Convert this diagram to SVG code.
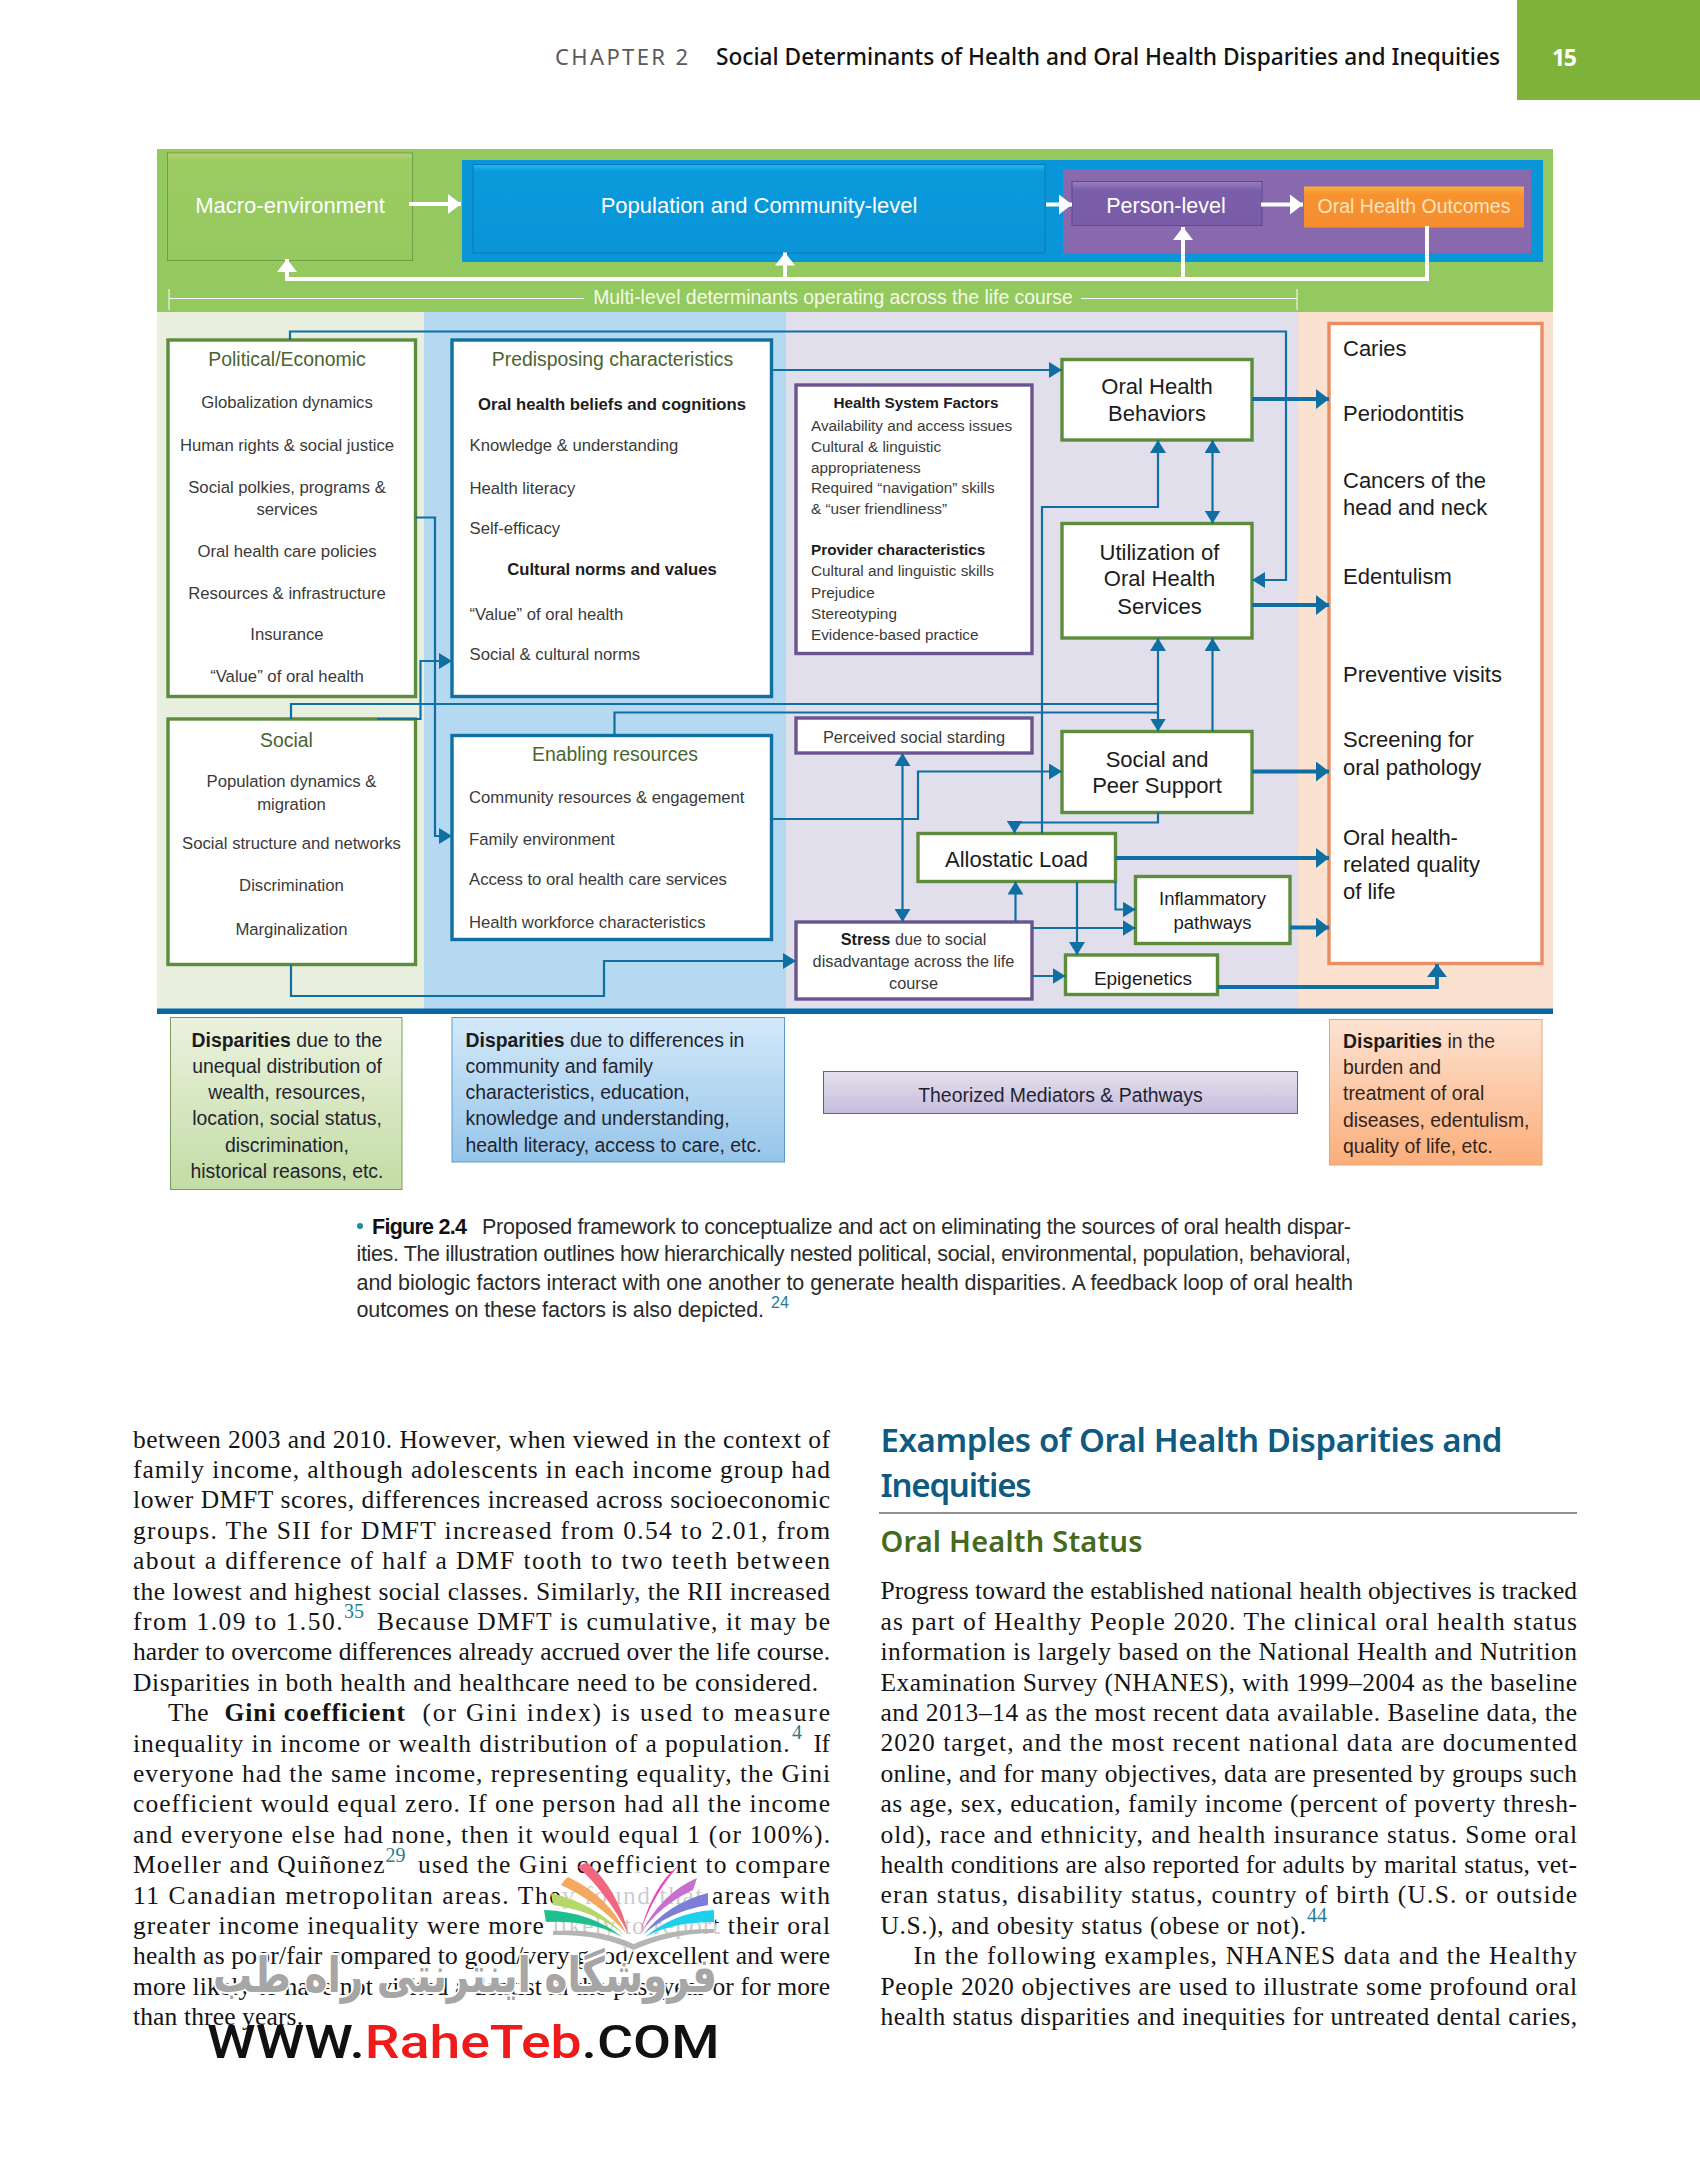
<svg xmlns="http://www.w3.org/2000/svg" width="1700" height="2175" viewBox="0 0 1700 2175">
<style>
text{font-family:"Liberation Sans",Arial,sans-serif;fill:#2b2b2b}
.c{text-anchor:middle}
.s16{font-size:16.7px;fill:#3a3a3a}
.s15{font-size:15.3px;fill:#3a3a3a}
.t18{font-size:19.4px;fill:#4c6430}
.n21{font-size:22px;fill:#1c1c1c}
.d18{font-size:19.4px;fill:#1f2430}
.w{fill:#fff}
.bd{font-weight:700;fill:#1c1c1c}
.box{fill:#fff;stroke-width:3.4}
.gr{stroke:#5d8c3c}.bl{stroke:#10709f}.pu{stroke:#6a5490}.or{stroke:#e98d62}
.cn{fill:none;stroke:#0f6fa3;stroke-width:2.2}
.ct{fill:none;stroke:#0f6fa3;stroke-width:3.8}
.cw{fill:none;stroke:#fff;stroke-width:4}
.b{font-family:"Liberation Serif","Times New Roman",serif;font-size:25.5px;fill:#141414}
.sup{font-family:"Liberation Serif",serif;font-size:20px;fill:#2a7a90}
.cap{font-size:21.5px;fill:#2a2a2a}
</style>
<defs>
<marker id="a" markerUnits="userSpaceOnUse" markerWidth="14" markerHeight="16" viewBox="0 0 14 16" refX="13" refY="8" orient="auto-start-reverse"><path d="M0 0L13 8L0 16Z" fill="#0f6fa3"/></marker>
<marker id="A" markerUnits="userSpaceOnUse" markerWidth="14" markerHeight="20" viewBox="0 0 14 20" refX="13" refY="10" orient="auto"><path d="M0 0L13 10L0 20Z" fill="#0f6fa3"/></marker>
<marker id="W" markerUnits="userSpaceOnUse" markerWidth="14" markerHeight="20" viewBox="0 0 14 20" refX="13" refY="10" orient="auto"><path d="M0 0L13 10L0 20Z" fill="#fff"/></marker>
<linearGradient id="gM" x1="0" y1="0" x2="0" y2="1"><stop offset="0" stop-color="#bcd277"/><stop offset=".07" stop-color="#9ccb62"/><stop offset="1" stop-color="#96c95f"/></linearGradient>
<linearGradient id="gP" x1="0" y1="0" x2="0" y2="1"><stop offset="0" stop-color="#1cbcf0"/><stop offset=".08" stop-color="#0a9ada"/><stop offset="1" stop-color="#0995d8"/></linearGradient>
<linearGradient id="gU" x1="0" y1="0" x2="0" y2="1"><stop offset="0" stop-color="#9a80c0"/><stop offset=".2" stop-color="#7a5ea9"/><stop offset="1" stop-color="#785ca8"/></linearGradient>
<linearGradient id="gO" x1="0" y1="0" x2="0" y2="1"><stop offset="0" stop-color="#fbb03c"/><stop offset=".2" stop-color="#f7922f"/><stop offset="1" stop-color="#f68e2f"/></linearGradient>
<linearGradient id="g1" x1="0" y1="0" x2="0" y2="1"><stop offset="0" stop-color="#ebf2df"/><stop offset="1" stop-color="#c3dca4"/></linearGradient>
<linearGradient id="g2" x1="0" y1="0" x2="0" y2="1"><stop offset="0" stop-color="#d3e9f9"/><stop offset="1" stop-color="#96c5ea"/></linearGradient>
<linearGradient id="g3" x1="0" y1="0" x2="0" y2="1"><stop offset="0" stop-color="#e6e1ef"/><stop offset="1" stop-color="#c5bcdd"/></linearGradient>
<linearGradient id="g4" x1="0" y1="0" x2="0" y2="1"><stop offset="0" stop-color="#fde3d2"/><stop offset="1" stop-color="#fbae7a"/></linearGradient>
</defs>
<rect width="1700" height="2175" fill="#fff"/>

<g id="page-header">
<rect x="1517" y="0" width="183" height="100" fill="#7fb239"/>
<text x="555" y="65" font-size="22" style="fill:#5a5a5a;font-family:'Noto Sans',sans-serif" textLength="133">CHAPTER 2</text>
<text x="716" y="65" font-size="23.5" font-weight="500" style="fill:#111;font-family:'Noto Sans',sans-serif" textLength="784" lengthAdjust="spacingAndGlyphs">Social Determinants of Health and Oral Health Disparities and Inequities</text>
<text x="1552" y="66" font-size="23" font-weight="700" style="fill:#fff;font-family:'Noto Sans',sans-serif" textLength="25">15</text>
</g>

<g id="bands">
<rect x="157" y="149" width="1396" height="163" fill="#94c95f"/>
<rect x="462" y="160" width="1081" height="102" fill="#0995d8"/>
<rect x="1063" y="169" width="468" height="84" fill="#8869ae"/>
<rect x="157" y="312" width="267" height="697" fill="#e9efde"/>
<rect x="424" y="312" width="362" height="697" fill="#b5d9f1"/>
<rect x="786" y="312" width="512" height="697" fill="#e2dfec"/>
<rect x="1298" y="312" width="255" height="697" fill="#fbe2d0"/>
<rect x="157" y="1008.5" width="1396" height="5.5" fill="#0669a5"/>
</g>

<g id="macro"><rect x="167.5" y="153" width="245" height="107.5" fill="url(#gM)" stroke="#6f9f45"/><text class="c w" x="290" y="213" font-size="22">Macro-environment</text></g>
<g id="population"><rect x="473" y="164.5" width="572" height="88.5" fill="url(#gP)" stroke="#0b78b5"/><text class="c w" x="759" y="213" font-size="22">Population and Community-level</text></g>
<g id="person"><rect x="1072" y="181.5" width="190" height="44" fill="url(#gU)" stroke="#5b4a8d"/><text class="c w" x="1166" y="212.5" font-size="21.5">Person-level</text></g>
<g id="outcomes-head"><rect x="1304" y="186.5" width="220" height="41" fill="url(#gO)"/><text class="c" x="1414" y="212.5" font-size="19.5" style="fill:#ffe3bd">Oral Health Outcomes</text></g>

<g id="lifecourse">
<path d="M169 289V310M169 298.5H584M1081 298.5H1297M1297 289V310" fill="none" stroke="#fff" stroke-width="1"/>
<text class="c" x="833" y="303.5" font-size="19.4" style="fill:#f4f9e8">Multi-level determinants operating across the life course</text>
</g>

<g id="political"><rect class="box gr" x="168" y="340" width="247.5" height="356.5"/>
<text class="c t18" x="287" y="366">Political/Economic</text>
<text class="c s16" x="287" y="408">Globalization dynamics</text>
<text class="c s16" x="287" y="450.5">Human rights &amp; social justice</text>
<text class="c s16" x="287" y="493">Social polkies, programs &amp;</text>
<text class="c s16" x="287" y="515">services</text>
<text class="c s16" x="287" y="557">Oral health care policies</text>
<text class="c s16" x="287" y="598.5">Resources &amp; infrastructure</text>
<text class="c s16" x="287" y="640">Insurance</text>
<text class="c s16" x="287" y="682">“Value” of oral health</text></g>

<g id="social"><rect class="box gr" x="168" y="719" width="247.5" height="245.5"/>
<text class="c t18" x="286.5" y="747">Social</text>
<text class="c s16" x="291.5" y="787">Population dynamics &amp;</text>
<text class="c s16" x="291.5" y="809.5">migration</text>
<text class="c s16" x="291.5" y="849">Social structure and networks</text>
<text class="c s16" x="291.5" y="891">Discrimination</text>
<text class="c s16" x="291.5" y="934.5">Marginalization</text></g>

<g id="predisposing"><rect class="box bl" x="452" y="340" width="319.5" height="356.5"/>
<text class="c t18" x="612.5" y="366">Predisposing characteristics</text>
<text class="c s16 bd" x="612" y="410">Oral health beliefs and cognitions</text>
<text class="s16" x="469.5" y="450.5">Knowledge &amp; understanding</text>
<text class="s16" x="469.5" y="493.5">Health literacy</text>
<text class="s16" x="469.5" y="534">Self-efficacy</text>
<text class="c s16 bd" x="612" y="575">Cultural norms and values</text>
<text class="s16" x="469.5" y="620">“Value” of oral health</text>
<text class="s16" x="469.5" y="660">Social &amp; cultural norms</text></g>

<g id="enabling"><rect class="box bl" x="452" y="735.5" width="319.5" height="204"/>
<text class="c t18" x="615" y="761">Enabling resources</text>
<text class="s16" x="469" y="803">Community resources &amp; engagement</text>
<text class="s16" x="469" y="845">Family environment</text>
<text class="s16" x="469" y="885">Access to oral health care services</text>
<text class="s16" x="469" y="928">Health workforce characteristics</text></g>

<g id="health-system"><rect class="box pu" x="796" y="385" width="236" height="268.5"/>
<text class="c s15 bd" x="916" y="408">Health System Factors</text>
<text class="s15" x="811" y="431">Availability and access issues</text>
<text class="s15" x="811" y="451.5">Cultural &amp; linguistic</text>
<text class="s15" x="811" y="473">appropriateness</text>
<text class="s15" x="811" y="492.5">Required “navigation” skills</text>
<text class="s15" x="811" y="514">&amp; “user friendliness”</text>
<text class="s15 bd" x="811" y="554.5">Provider characteristics</text>
<text class="s15" x="811" y="575.5">Cultural and linguistic skills</text>
<text class="s15" x="811" y="597.5">Prejudice</text>
<text class="s15" x="811" y="618.5">Stereotyping</text>
<text class="s15" x="811" y="639.5">Evidence-based practice</text></g>

<g id="perceived"><rect class="box pu" x="796" y="718" width="236" height="35"/><text class="c s15" x="914" y="742.5" style="font-size:16.4px">Perceived social starding</text></g>
<g id="stress"><rect class="box pu" x="796" y="922" width="236" height="77"/>
<text class="c s15" x="913.5" y="944.5" style="font-size:16.3px"><tspan class="bd">Stress</tspan> due to social</text>
<text class="c s15" x="913.5" y="966.5" style="font-size:16.3px">disadvantage across the life</text>
<text class="c s15" x="913.5" y="988.5" style="font-size:16.3px">course</text></g>

<g id="behaviors"><rect class="box gr" x="1062" y="359.5" width="190" height="80.5"/><text class="c n21" x="1157" y="393.5">Oral Health</text><text class="c n21" x="1157" y="420.5">Behaviors</text></g>
<g id="utilization"><rect class="box gr" x="1062" y="523.5" width="190" height="114.5"/><text class="c n21" x="1159.5" y="559.5">Utilization of</text><text class="c n21" x="1159.5" y="586">Oral Health</text><text class="c n21" x="1159.5" y="613.5">Services</text></g>
<g id="support"><rect class="box gr" x="1062" y="731.5" width="190" height="81"/><text class="c n21" x="1157" y="766.5">Social and</text><text class="c n21" x="1157" y="793">Peer Support</text></g>
<g id="allostatic"><rect class="box gr" x="918" y="833.5" width="197.5" height="48"/><text class="c n21" x="1016.5" y="867">Allostatic Load</text></g>
<g id="inflammatory"><rect class="box gr" x="1135.5" y="876.5" width="154.5" height="67"/><text class="c n21" x="1212.5" y="905" style="font-size:18.5px">Inflammatory</text><text class="c n21" x="1212.5" y="929" style="font-size:18.5px">pathways</text></g>
<g id="epigenetics"><rect class="box gr" x="1065.5" y="955" width="152" height="39.5"/><text class="c n21" x="1143" y="984.5" style="font-size:19px">Epigenetics</text></g>

<g id="outcomes"><rect class="box or" x="1329" y="323.5" width="213" height="640"/>
<text class="n21" x="1343" y="356">Caries</text>
<text class="n21" x="1343" y="421">Periodontitis</text>
<text class="n21" x="1343" y="488">Cancers of the</text>
<text class="n21" x="1343" y="515">head and neck</text>
<text class="n21" x="1343" y="584">Edentulism</text>
<text class="n21" x="1343" y="682">Preventive visits</text>
<text class="n21" x="1343" y="747">Screening for</text>
<text class="n21" x="1343" y="774.5">oral pathology</text>
<text class="n21" x="1343" y="844.5">Oral health-</text>
<text class="n21" x="1343" y="872">related quality</text>
<text class="n21" x="1343" y="899">of life</text></g>

<g id="connectors">
<path class="cw" marker-end="url(#W)" d="M409 204H461"/>
<path class="cw" marker-end="url(#W)" d="M1046 204.5H1072"/>
<path class="cw" marker-end="url(#W)" d="M1261 204.5H1303"/>
<path class="cw" marker-end="url(#W)" d="M1427 226V279H287V259"/>
<path class="cw" marker-end="url(#W)" d="M785 279V252.5"/>
<path class="cw" marker-end="url(#W)" d="M1183 279V227"/>
<path class="cn" marker-end="url(#a)" d="M290 340V331.5H1286V580H1252"/>
<path class="cn" marker-end="url(#a)" d="M771.5 370H1062"/>
<path class="cn" marker-end="url(#a)" d="M415.5 517.5H435V836H452"/>
<path class="cn" marker-end="url(#a)" d="M377 719H420.5V661H452"/>
<path class="cn" d="M291 719V704H1158"/>
<path class="cn" d="M614.5 735.5V712.5H1158"/>
<path class="cn" marker-start="url(#a)" marker-end="url(#a)" d="M1158 638V731.5"/>
<path class="cn" marker-end="url(#a)" d="M1212.5 731.5V638"/>
<path class="cn" marker-start="url(#a)" marker-end="url(#a)" d="M1212.5 440V523.5"/>
<path class="cn" marker-end="url(#a)" d="M1042 833.5V507H1158V440"/>
<path class="cn" marker-end="url(#a)" d="M771.5 819H918V771.5H1062"/>
<path class="cn" marker-end="url(#a)" d="M291 964.5V996H604V961H796"/>
<path class="cn" marker-start="url(#a)" marker-end="url(#a)" d="M902.5 753V922"/>
<path class="cn" marker-end="url(#a)" d="M1158 812.5V822.5H1014.5V833.5"/>
<path class="cn" marker-end="url(#a)" d="M1015.5 922V881.5"/>
<path class="cn" marker-end="url(#a)" d="M1077 881.5V955"/>
<path class="cn" marker-end="url(#a)" d="M1115.5 881.5V909.5H1135.5"/>
<path class="cn" marker-end="url(#a)" d="M1032 928H1135.5"/>
<path class="cn" marker-end="url(#a)" d="M1032 976H1065.5"/>
<path class="ct" marker-end="url(#A)" d="M1252 399H1329"/>
<path class="ct" marker-end="url(#A)" d="M1252 605H1329"/>
<path class="ct" marker-end="url(#A)" d="M1252 771.5H1329"/>
<path class="ct" marker-end="url(#A)" d="M1115.5 858H1329"/>
<path class="ct" marker-end="url(#A)" d="M1290 927.5H1329"/>
<path class="ct" marker-end="url(#A)" d="M1217.5 987H1437V964"/>
</g>

<g id="legend-green"><rect x="170.5" y="1017.5" width="231.5" height="172" fill="url(#g1)" stroke="#7d9b5f"/>
<text class="c d18" x="287" y="1046.5"><tspan class="bd">Disparities</tspan> due to the</text>
<text class="c d18" x="287" y="1073">unequal distribution of</text>
<text class="c d18" x="287" y="1099">wealth, resources,</text>
<text class="c d18" x="287" y="1125">location, social status,</text>
<text class="c d18" x="287" y="1151.5">discrimination,</text>
<text class="c d18" x="287" y="1177.5">historical reasons, etc.</text></g>
<g id="legend-blue"><rect x="452" y="1017.5" width="332.5" height="144.5" fill="url(#g2)" stroke="#5a9bc9"/>
<text class="d18" x="465.5" y="1046.5"><tspan class="bd">Disparities</tspan> due to differences in</text>
<text class="d18" x="465.5" y="1073">community and family</text>
<text class="d18" x="465.5" y="1099">characteristics, education,</text>
<text class="d18" x="465.5" y="1125">knowledge and understanding,</text>
<text class="d18" x="465.5" y="1151.5">health literacy, access to care, etc.</text></g>
<g id="legend-purple"><rect x="823.5" y="1071.5" width="474" height="42" fill="url(#g3)" stroke="#6a5a98"/><text class="c d18" x="1060.5" y="1102">Theorized Mediators &amp; Pathways</text></g>
<g id="legend-orange"><rect x="1329.5" y="1019.5" width="212.5" height="145.5" fill="url(#g4)" stroke="#e9a477"/>
<text class="d18" x="1343" y="1047.5" style="fill:#33241c"><tspan class="bd">Disparities</tspan> in the</text>
<text class="d18" x="1343" y="1074" style="fill:#33241c">burden and</text>
<text class="d18" x="1343" y="1100" style="fill:#33241c">treatment of oral</text>
<text class="d18" x="1343" y="1126.5" style="fill:#33241c">diseases, edentulism,</text>
<text class="d18" x="1343" y="1152.5" style="fill:#33241c">quality of life, etc.</text></g>

<g id="caption">
<circle cx="360" cy="1226" r="3" fill="#1f8c9c"/>
<text class="cap" x="372" y="1233.5" font-weight="700" textLength="95" style="fill:#111">Figure 2.4</text>
<text class="cap" x="482" y="1233.5" textLength="869">Proposed framework to conceptualize and act on eliminating the sources of oral health dispar-</text>
<text class="cap" x="356.5" y="1261" textLength="994.5">ities. The illustration outlines how hierarchically nested political, social, environmental, population, behavioral,</text>
<text class="cap" x="356.5" y="1289.5" textLength="996.5">and biologic factors interact with one another to generate health disparities. A feedback loop of oral health</text>
<text class="cap" x="356.5" y="1317" textLength="407.5">outcomes on these factors is also depicted.</text>
<text x="771" y="1308" font-size="16" style="fill:#2a7a90">24</text>
</g>

<g id="left-column">
<text class="b" x="133" y="1447.5" textLength="697">between 2003 and 2010. However, when viewed in the context of</text>
<text class="b" x="133" y="1477.9" textLength="697">family income, although adolescents in each income group had</text>
<text class="b" x="133" y="1508.3" textLength="697">lower DMFT scores, differences increased across socioeconomic</text>
<text class="b" x="133" y="1538.7" textLength="697">groups. The SII for DMFT increased from 0.54 to 2.01, from</text>
<text class="b" x="133" y="1569.1" textLength="697">about a difference of half a DMF tooth to two teeth between</text>
<text class="b" x="133" y="1599.5" textLength="697">the lowest and highest social classes. Similarly, the RII increased</text>
<text class="b" x="133" y="1629.9" textLength="209.5">from 1.09 to 1.50.</text><text class="sup" x="344" y="1618">35</text>
<text class="b" x="377" y="1629.9" textLength="453">Because DMFT is cumulative, it may be</text>
<text class="b" x="133" y="1660.3" textLength="697">harder to overcome differences already accrued over the life course.</text>
<text class="b" x="133" y="1690.7" textLength="685">Disparities in both health and healthcare need to be considered.</text>
<text class="b" x="168" y="1721.1" textLength="40.5">The</text>
<text class="b" x="224.5" y="1721.1" font-weight="700" textLength="180.5">Gini coefficient</text>
<text class="b" x="422.5" y="1721.1" textLength="407.5">(or Gini index) is used to measure</text>
<text class="b" x="133" y="1751.5" textLength="656.5">inequality in income or wealth distribution of a population.</text><text class="sup" x="792" y="1739">4</text>
<text class="b" x="813.5" y="1751.5" textLength="16.5">If</text>
<text class="b" x="133" y="1781.9" textLength="697">everyone had the same income, representing equality, the Gini</text>
<text class="b" x="133" y="1812.3" textLength="697">coefficient would equal zero. If one person had all the income</text>
<text class="b" x="133" y="1842.7" textLength="697">and everyone else had none, then it would equal 1 (or 100%).</text>
<text class="b" x="133" y="1873.1" textLength="251.5">Moeller and Quiñonez</text><text class="sup" x="385.5" y="1862">29</text>
<text class="b" x="418" y="1873.1" textLength="412">used the Gini coefficient to compare</text>
<text class="b" x="133" y="1903.5" textLength="697">11 Canadian metropolitan areas. They found that areas with</text>
<text class="b" x="133" y="1933.9" textLength="697">greater income inequality were more likely to report their oral</text>
<text class="b" x="133" y="1964.3" textLength="697">health as poor/fair compared to good/very good/excellent and were</text>
<text class="b" x="133" y="1994.7" textLength="697">more likely to have not visited a dentist in the past year or for more</text>
<text class="b" x="133" y="2025.1" textLength="170">than three years.</text>
</g>

<g id="right-column">
<text x="880.5" y="1451.5" font-size="33" font-weight="600" style="font-family:'Noto Sans',sans-serif;fill:#0f5a80" textLength="622">Examples of Oral Health Disparities and</text>
<text x="880.5" y="1496.5" font-size="33" font-weight="600" style="font-family:'Noto Sans',sans-serif;fill:#0f5a80" textLength="151">Inequities</text>
<path d="M879 1513H1577" stroke="#222" stroke-width="1.2"/>
<text x="880.5" y="1551.5" font-size="29" font-weight="600" style="font-family:'Noto Sans',sans-serif;fill:#446a1e" textLength="262">Oral Health Status</text>
<text class="b" x="880.5" y="1599.4" textLength="696.5">Progress toward the established national health objectives is tracked</text>
<text class="b" x="880.5" y="1629.8" textLength="696.5">as part of Healthy People 2020. The clinical oral health status</text>
<text class="b" x="880.5" y="1660.2" textLength="696.5">information is largely based on the National Health and Nutrition</text>
<text class="b" x="880.5" y="1690.6" textLength="696.5">Examination Survey (NHANES), with 1999–2004 as the baseline</text>
<text class="b" x="880.5" y="1721" textLength="696.5">and 2013–14 as the most recent data available. Baseline data, the</text>
<text class="b" x="880.5" y="1751.4" textLength="696.5">2020 target, and the most recent national data are documented</text>
<text class="b" x="880.5" y="1781.8" textLength="696.5">online, and for many objectives, data are presented by groups such</text>
<text class="b" x="880.5" y="1812.2" textLength="696.5">as age, sex, education, family income (percent of poverty thresh-</text>
<text class="b" x="880.5" y="1842.6" textLength="696.5">old), race and ethnicity, and health insurance status. Some oral</text>
<text class="b" x="880.5" y="1873" textLength="696.5">health conditions are also reported for adults by marital status, vet-</text>
<text class="b" x="880.5" y="1903.4" textLength="696.5">eran status, disability status, country of birth (U.S. or outside</text>
<text class="b" x="880.5" y="1933.8" textLength="425.5">U.S.), and obesity status (obese or not).</text><text class="sup" x="1307" y="1922">44</text>
<text class="b" x="913.5" y="1964.2" textLength="663.5">In the following examples, NHANES data and the Healthy</text>
<text class="b" x="880.5" y="1994.6" textLength="696.5">People 2020 objectives are used to illustrate some profound oral</text>
<text class="b" x="880.5" y="2025" textLength="696.5">health status disparities and inequities for untreated dental caries,</text>
</g>

<g id="watermark">
<path d="M562 1892L640 1870L706 1892L720 1938L634 1952L548 1938Z" fill="#fff" opacity=".78"/>
<path d="M578 1867Q583 1863 588 1863Q618 1890 628 1933Q606 1892 578 1867Z" fill="#f0677f"/>
<path d="M561 1885Q564 1880 568 1877Q608 1896 626 1933Q598 1902 561 1885Z" fill="#f5a95f"/>
<path d="M551 1893L553 1905Q598 1912 624 1935Q596 1904 551 1893Z" fill="#b6d76a"/>
<path d="M544 1910L546 1922Q592 1920 622 1937Q592 1912 544 1910Z" fill="#1dbf8f"/>
<path d="M681 1863L670 1873Q650 1895 640 1933Q654 1892 681 1863Z" fill="#ef45bf"/>
<path d="M697 1878L693 1890Q660 1905 641 1933Q662 1893 697 1878Z" fill="#c76fd0"/>
<path d="M708 1893L708 1905Q668 1912 643 1935Q668 1903 708 1893Z" fill="#7b7fd6"/>
<path d="M714 1910L714 1922Q672 1922 645 1937Q675 1912 714 1910Z" fill="#1fd0ea"/>
<path d="M553 1931Q600 1928 633.5 1944Q670 1928 714 1929L714 1933Q672 1933 633.5 1950Q600 1934 553 1935Z" fill="#b5b5b5"/>
<g transform="translate(465 1992) scale(1 1.25)"><text x="0" y="0" font-size="39" font-weight="700" text-anchor="middle" direction="rtl" stroke="#fff" stroke-width="3" paint-order="stroke" style="font-family:'DejaVu Sans',sans-serif;fill:#a6a6a6">فروشگاه اینترنتی راه طب</text></g>
<text x="207" y="2058" font-size="47" font-weight="500" textLength="512.5" lengthAdjust="spacingAndGlyphs" style="font-family:Roboto,sans-serif;fill:#111">WWW.<tspan style="fill:#ef1b1b">RaheTeb</tspan>.COM</text>
</g>
</svg>
